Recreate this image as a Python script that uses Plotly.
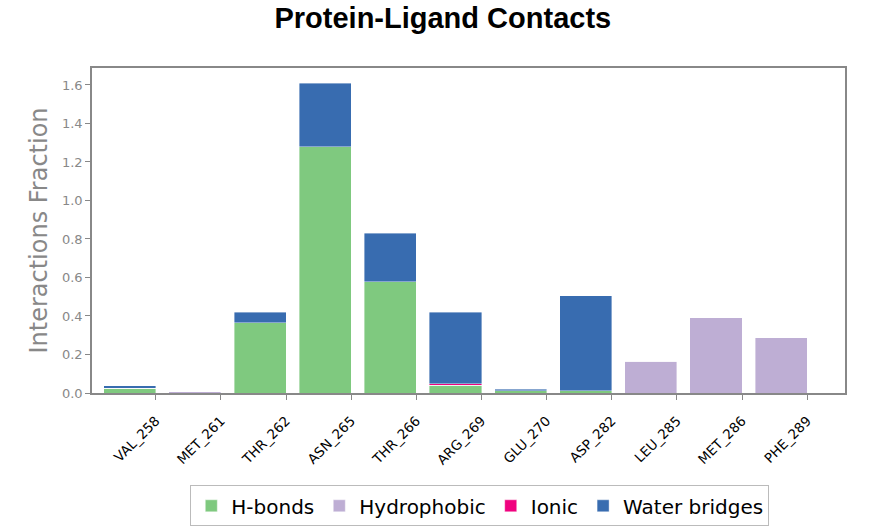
import plotly.graph_objects as go

residues = ["VAL_258", "MET_261", "THR_262", "ASN_265", "THR_266", "ARG_269",
            "GLU_270", "ASP_282", "LEU_285", "MET_286", "PHE_289"]
hbonds = [0.025, 0.0, 0.364, 1.28, 0.577, 0.04, 0.012, 0.012, 0.0, 0.0, 0.0]
hydrophobic = [0.0, 0.007, 0.0, 0.0, 0.0, 0.0, 0.0, 0.0, 0.166, 0.392, 0.288]
ionic = [0.0, 0.0, 0.0, 0.0, 0.0, 0.008, 0.0, 0.0, 0.0, 0.0, 0.0]
water = [0.013, 0.0, 0.056, 0.33, 0.253, 0.372, 0.008, 0.492, 0.0, 0.0, 0.0]

series = [("H-bonds", hbonds, "#7fc97f"),
          ("Hydrophobic", hydrophobic, "#beaed4"),
          ("Ionic", ionic, "#f0027f"),
          ("Water bridges", water, "#386cb0")]

fig = go.Figure()
for name, vals, color in series:
    fig.add_trace(go.Bar(x=residues, y=vals, name=name,
                         marker=dict(color=color, line=dict(color="white", width=0.4)),
                         width=0.8, offset=-0.8))

axis_color = "#888888"
fig.update_layout(
    barmode="stack",
    width=891, height=529,
    margin=dict(l=92, r=46, t=68, b=136, autoexpand=False),
    paper_bgcolor="white", plot_bgcolor="white",
    title=dict(text="<b>Protein-Ligand Contacts</b>", x=0.497, xanchor="center",
               y=0.966, yanchor="middle",
               font=dict(family="Liberation Sans, Arial", size=29, color="black")),
    font=dict(family="DejaVu Sans"),
    xaxis=dict(range=[-0.98, 10.58], showline=True, mirror=True, linecolor=axis_color,
               linewidth=1.5, ticks="outside", tickcolor=axis_color, ticklen=5,
               tickangle=-45, ticklabelstandoff=8,
               tickfont=dict(size=13.5, color="black", family="DejaVu Sans"),
               showgrid=False, automargin=False),
    yaxis=dict(range=[0, 1.688], showline=True, mirror=True, linecolor=axis_color,
               linewidth=1.5, ticks="outside", tickcolor=axis_color, ticklen=5,
               tickvals=[0, 0.2, 0.4, 0.6, 0.8, 1.0, 1.2, 1.4, 1.6],
               ticktext=["0.0", "0.2", "0.4", "0.6", "0.8", "1.0", "1.2", "1.4", "1.6"],
               tickfont=dict(size=13, color="#888888"),
               showgrid=False, zeroline=False, automargin=False,
               title=dict(text="Interactions Fraction", standoff=8,
                          font=dict(size=24, color="#888888"))),
    legend=dict(orientation="h", x=0.515, xanchor="center", y=-0.284, yanchor="top",
                bordercolor="#bbbbbb", borderwidth=1,
                font=dict(size=20, color="black", family="DejaVu Sans"),
                itemwidth=30, traceorder="normal"),
    bargap=0.2,
)

fig.write_html("out.html")
